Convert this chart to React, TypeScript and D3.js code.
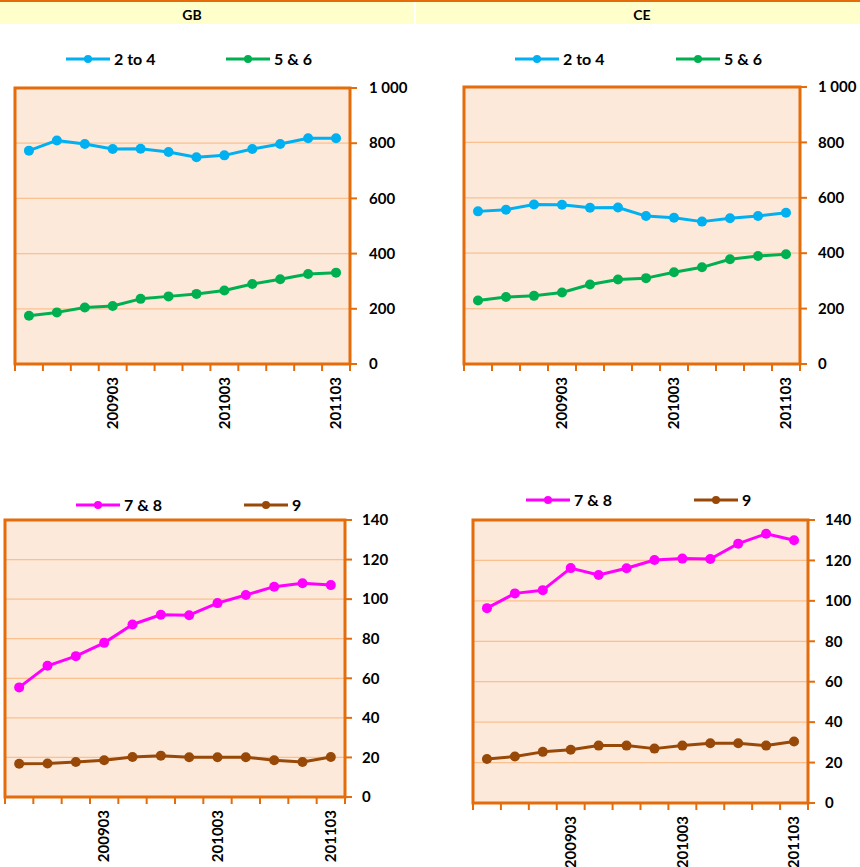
import React, { useEffect, useRef } from "react";
import * as d3 from "d3";

// quarters (YYYYMM), only every 4th one gets a label
const quarters = [
  "200806", "200809", "200812", "200903", "200906", "200909",
  "200912", "201003", "201006", "201009", "201012", "201103",
];
const labelledQuarters = ["200903", "201003", "201103"];

const gb2to4 = [773, 810, 797, 779, 780, 768, 749, 756, 779, 797, 818, 818];
const gb5and6 = [175, 187, 205, 210, 236, 245, 254, 266, 290, 307, 326, 331];
const ce2to4 = [551, 557, 576, 575, 564, 565, 534, 528, 514, 526, 534, 546];
const ce5and6 = [229, 242, 246, 258, 287, 305, 310, 331, 349, 378, 390, 396];
const gb7and8 = [55.4, 66.3, 71.2, 77.9, 87.2, 92.1, 91.9, 98, 102.1, 106.3, 108, 107.1];
const gb9 = [16.8, 16.9, 17.7, 18.6, 20.2, 20.9, 20.1, 20.1, 20.1, 18.6, 17.7, 20.2];
const ce7and8 = [96.4, 103.7, 105.3, 116.2, 112.8, 116.1, 120.2, 120.9, 120.7, 128.3, 133.2, 130];
const ce9 = [21.8, 23, 25.3, 26.3, 28.4, 28.4, 26.9, 28.4, 29.6, 29.6, 28.4, 30.4];

const regionTitles = ["GB", "CE"];

const ORANGE = "#E46C0A";
const PLOT_BG = "#FDE9D9";
const GRID = "#FAC090";
const FONT = "Lato, 'Open Sans', sans-serif";

interface Series {
  name: string;
  color: string;
  values: number[];
}

interface Panel {
  left: number;
  right: number;
  top: number;
  bottom: number;
  max: number;
  step: number;
  labelX: number;
  legendY: number;
  legendX: number[]; // start of legend line for each series
  series: Series[];
}

const fmt = d3.formatLocale({ decimal: ".", thousands: " ", grouping: [3], currency: ["", ""] }).format(",d");

const panels: Panel[] = [
  {
    left: 15, right: 350, top: 88, bottom: 364, max: 1000, step: 200, labelX: 369,
    legendY: 59, legendX: [66, 226],
    series: [
      { name: "2 to 4", color: "#00B0F0", values: gb2to4 },
      { name: "5 & 6", color: "#00B050", values: gb5and6 },
    ],
  },
  {
    left: 464, right: 800, top: 87, bottom: 364, max: 1000, step: 200, labelX: 818,
    legendY: 59, legendX: [515, 676],
    series: [
      { name: "2 to 4", color: "#00B0F0", values: ce2to4 },
      { name: "5 & 6", color: "#00B050", values: ce5and6 },
    ],
  },
  {
    left: 5, right: 345, top: 520, bottom: 797, max: 140, step: 20, labelX: 362,
    legendY: 505, legendX: [76, 244],
    series: [
      { name: "7 & 8", color: "#FF00FF", values: gb7and8 },
      { name: "9", color: "#984807", values: gb9 },
    ],
  },
  {
    left: 473, right: 808, top: 520, bottom: 803, max: 140, step: 20, labelX: 825,
    legendY: 500, legendX: [526, 694],
    series: [
      { name: "7 & 8", color: "#FF00FF", values: ce7and8 },
      { name: "9", color: "#984807", values: ce9 },
    ],
  },
];

const App: React.FC = () => {
  const svgRef = useRef<SVGSVGElement | null>(null);

  useEffect(() => {
    if (!svgRef.current) return;
    const svg = d3.select(svgRef.current);
    svg.selectAll("*").remove();

    // header strip
    svg.append("rect").attr("x", 0).attr("y", 2).attr("width", 414).attr("height", 22).attr("fill", "#FFFFCC");
    svg.append("rect").attr("x", 416).attr("y", 2).attr("width", 444).attr("height", 22).attr("fill", "#FFFFCC");
    svg.append("rect").attr("x", 0).attr("y", 0).attr("width", 860).attr("height", 2).attr("fill", ORANGE);
    svg.selectAll("text.region")
      .data(regionTitles)
      .enter()
      .append("text")
      .attr("class", "region")
      .attr("x", (_, i) => (i === 0 ? 192 : 642))
      .attr("y", 15)
      .attr("dy", "0.35em")
      .attr("text-anchor", "middle")
      .attr("font-family", FONT)
      .attr("font-weight", 700)
      .attr("font-size", 14)
      .text(d => d);

    panels.forEach(p => {
      const x = d3.scaleBand().domain(quarters).range([p.left, p.right]).padding(0);
      const y = d3.scaleLinear().domain([0, p.max]).range([p.bottom, p.top]);
      const ticks = d3.range(0, p.max + p.step / 2, p.step);
      const g = svg.append("g");

      g.append("rect")
        .attr("x", p.left).attr("y", p.top)
        .attr("width", p.right - p.left).attr("height", p.bottom - p.top)
        .attr("fill", PLOT_BG);

      g.selectAll("line.grid")
        .data(ticks.filter(t => t > 0 && t < p.max))
        .enter()
        .append("line")
        .attr("x1", p.left).attr("x2", p.right)
        .attr("y1", d => y(d)).attr("y2", d => y(d))
        .attr("stroke", GRID).attr("stroke-width", 1.3);

      // y ticks on the right
      g.selectAll("line.ytick")
        .data(ticks)
        .enter()
        .append("line")
        .attr("x1", p.right).attr("x2", p.right + 7)
        .attr("y1", d => y(d)).attr("y2", d => y(d))
        .attr("stroke", ORANGE).attr("stroke-width", 2);

      g.selectAll("text.ylab")
        .data(ticks)
        .enter()
        .append("text")
        .attr("x", p.labelX)
        .attr("y", d => y(d))
        .attr("dy", "0.35em")
        .attr("font-family", FONT)
        .attr("font-weight", 700)
        .attr("font-size", 15)
        .text(d => fmt(d));

      // x ticks between categories
      const edges = quarters.map(q => x(q) ?? 0).concat([p.right]);
      g.selectAll("line.xtick")
        .data(edges)
        .enter()
        .append("line")
        .attr("x1", d => d).attr("x2", d => d)
        .attr("y1", p.bottom).attr("y2", p.bottom + 7)
        .attr("stroke", ORANGE).attr("stroke-width", 2);

      g.selectAll("text.xlab")
        .data(labelledQuarters)
        .enter()
        .append("text")
        .attr("transform", d => `translate(${(x(d) ?? 0) + x.bandwidth() / 2},${p.bottom + 13}) rotate(-90)`)
        .attr("dy", "0.35em")
        .attr("text-anchor", "end")
        .attr("font-family", FONT)
        .attr("font-weight", 700)
        .attr("font-size", 15)
        .text(d => d);

      // plot border
      g.append("rect")
        .attr("x", p.left).attr("y", p.top)
        .attr("width", p.right - p.left).attr("height", p.bottom - p.top)
        .attr("fill", "none").attr("stroke", ORANGE).attr("stroke-width", 3);

      const line = d3.line<number>()
        .x((_, i) => (x(quarters[i]) ?? 0) + x.bandwidth() / 2)
        .y(d => y(d));

      p.series.forEach((s, si) => {
        g.append("path")
          .datum(s.values)
          .attr("d", line)
          .attr("fill", "none")
          .attr("stroke", s.color)
          .attr("stroke-width", 3)
          .attr("stroke-linejoin", "round");
        g.selectAll(`circle.s${si}`)
          .data(s.values)
          .enter()
          .append("circle")
          .attr("cx", (_, i) => (x(quarters[i]) ?? 0) + x.bandwidth() / 2)
          .attr("cy", d => y(d))
          .attr("r", 5)
          .attr("fill", s.color);

        // legend entry
        const lx = p.legendX[si];
        g.append("line")
          .attr("x1", lx).attr("x2", lx + 44)
          .attr("y1", p.legendY).attr("y2", p.legendY)
          .attr("stroke", s.color).attr("stroke-width", 3);
        g.append("circle")
          .attr("cx", lx + 22).attr("cy", p.legendY).attr("r", 4)
          .attr("fill", s.color);
        g.append("text")
          .attr("x", lx + 48).attr("y", p.legendY)
          .attr("dy", "0.35em")
          .attr("font-family", FONT)
          .attr("font-weight", 700)
          .attr("font-size", 16)
          .text(s.name);
      });
    });
  }, []);

  return (
    <div style={{ position: "absolute", left: 0, top: 0 }}>
      <svg ref={svgRef} width={860} height={867} style={{ display: "block", background: "#fff" }}></svg>
    </div>
  );
};

export default App;
